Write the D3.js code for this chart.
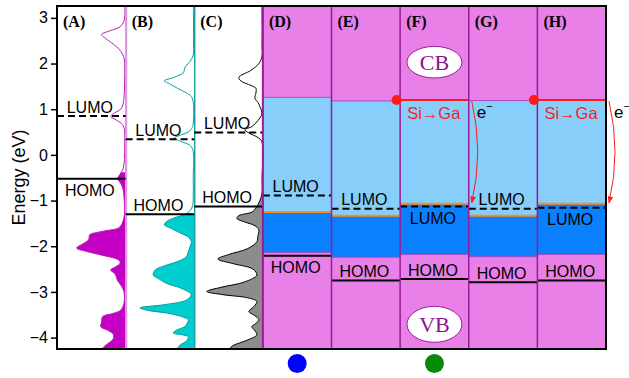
<!DOCTYPE html>
<html>
<head>
<meta charset="utf-8">
<script src="https://cdn.jsdelivr.net/npm/d3@7"></script>
<style>
  body { margin: 0; background: #fff; }
  svg { display: block; }
</style>
</head>
<body>
<svg id="chart" width="629" height="378"></svg>
<script>
// ---------- data ----------
const panels = ["A", "B", "C", "D", "E", "F", "G", "H"];
const yTicks = [-4, -3, -2, -1, 0, 1, 2, 3];

// isolated fragments (A-C): frontier levels (eV) and DOS curves [energy eV, DOS arb. units]
const dosPanels = ["A", "B", "C"];
const dosLumo = [0.85, 0.34, 0.49];
const dosHomo = [-0.52, -1.30, -1.13];
const dosOccTop = [-0.38, -1.28, -0.90];   // occupied states start here (filled area)

const dosA = [
  [3.3, 0.8], [3.05, 0.8], [2.92, 1.8], [2.80, 6], [2.70, 18], [2.64, 24], [2.55, 20],
  [2.42, 12], [2.30, 6], [2.15, 2], [2.0, 1], [1.6, 1], [1.3, 1.5], [1.10, 2.7],
  [1.00, 5], [0.92, 11], [0.84, 15], [0.76, 9], [0.66, 3], [0.55, 1.2], [0.2, 1],
  [-0.1, 1.2], [-0.30, 2.5], [-0.42, 5.5], [-0.52, 8], [-0.62, 5], [-0.75, 2.5],
  [-0.95, 1.5], [-1.20, 1], [-1.35, 1.5], [-1.50, 3.5], [-1.60, 7], [-1.66, 20],
  [-1.70, 29], [-1.75, 36], [-1.86, 37], [-1.95, 43], [-2.04, 49], [-2.12, 38],
  [-2.19, 25], [-2.30, 7], [-2.37, 5.5], [-2.45, 10], [-2.52, 15], [-2.58, 12],
  [-2.63, 10], [-2.74, 8.3], [-2.88, 4], [-2.99, 1.7], [-3.25, 1.7], [-3.40, 5],
  [-3.48, 14], [-3.54, 23], [-3.66, 24], [-3.76, 25], [-3.85, 17], [-3.94, 12],
  [-4.05, 13], [-4.15, 19], [-4.27, 25]
];
const dosB = [
  [3.3, 0.8], [2.5, 0.8], [2.19, 1], [2.05, 4], [1.93, 9], [1.80, 11], [1.70, 20],
  [1.62, 30], [1.55, 24], [1.46, 17], [1.36, 8], [1.28, 3], [1.15, 1], [0.70, 1],
  [0.60, 2], [0.50, 6], [0.44, 13], [0.37, 20], [0.30, 14], [0.22, 5], [0.12, 1.5],
  [-0.50, 1], [-0.90, 1], [-1.10, 1.5], [-1.22, 4], [-1.30, 9], [-1.38, 20],
  [-1.45, 27], [-1.53, 30], [-1.62, 22], [-1.71, 14], [-1.80, 6], [-1.90, 3],
  [-2.00, 4], [-2.12, 6], [-2.23, 8], [-2.33, 16], [-2.43, 30], [-2.52, 39],
  [-2.63, 41], [-2.72, 35], [-2.81, 28], [-2.93, 12], [-3.06, 3], [-3.18, 8],
  [-3.28, 30], [-3.35, 54], [-3.41, 45], [-3.46, 28], [-3.53, 14], [-3.61, 6],
  [-3.68, 7], [-3.76, 9.3], [-3.84, 18], [-3.90, 21], [-3.94, 12], [-3.98, 6],
  [-4.08, 8], [-4.16, 14], [-4.27, 18]
];
const dosC = [
  [3.3, 0.8], [2.4, 0.8], [2.15, 1], [2.00, 4], [1.85, 12], [1.70, 24], [1.62, 22],
  [1.52, 12], [1.46, 7], [1.35, 7], [1.24, 8], [1.15, 5], [1.06, 3], [0.90, 1],
  [0.75, 5], [0.62, 11], [0.55, 18], [0.48, 14], [0.38, 5], [0.29, 1], [-0.5, 0.8],
  [-0.85, 1], [-1.00, 3], [-1.09, 5], [-1.24, 10], [-1.33, 24], [-1.39, 26],
  [-1.47, 18], [-1.55, 8], [-1.64, 4], [-1.78, 5], [-1.90, 6], [-2.05, 15],
  [-2.18, 34], [-2.28, 45], [-2.38, 30], [-2.50, 10], [-2.63, 6], [-2.78, 18],
  [-2.90, 42], [-2.99, 56], [-3.06, 40], [-3.13, 15], [-3.21, 6], [-3.32, 9],
  [-3.43, 14], [-3.52, 8], [-3.61, 4], [-3.69, 7], [-3.76, 11], [-3.85, 8],
  [-3.94, 6], [-4.05, 15], [-4.19, 31], [-4.27, 34]
];
const dosCurves = [dosA, dosB, dosC];

// hybrid systems (D-H): band edges and frontier levels (eV)
const bandPanels = ["D", "E", "F", "G", "H"];
const cbEdge = [1.26, 1.18, 1.20, 1.19, 1.20];
const dopantLevel = [-1.25, -1.33, -1.07, -1.33, -1.07];
const gapBottom = [-2.14, -2.24, -2.18, -2.23, -2.18];
const bandLumo = [-0.89, -1.18, -1.13, -1.18, -1.16];
const bandHomo = [-2.21, -2.75, -2.72, -2.79, -2.75];

// Si -> Ga substituted systems
const dopedPanels = ["F", "H"];
const markerPanels = ["D", "F"];
const markerColors = ["#0000ff", "#078a07"];

// ---------- layout ----------
const svg = d3.select("#chart");
const plot = { left: 57, right: 606, top: 6, bottom: 349 };
const y = d3.scaleLinear().domain([-4.25, 3.26]).range([plot.bottom, plot.top]);
const x = d3.scaleBand().domain(panels).range([plot.left, plot.right]).paddingInner(0).paddingOuter(0);
const bw = x.bandwidth();

const COL = {
  pink: "#e880e8", light: "#87cefa", dark: "#0a80ff", orange: "#ff8c1a",
  divider: "#9a1a9a", red: "#ff1a1a", purpleText: "#8e128e"
};
const dosStyle = {
  A: { line: "#b81cb8", fill: "#c400c4", edge: "#dc9adc" },
  B: { line: "#009e9e", fill: "#00cdd0", edge: "#009a9a" },
  C: { line: "#000000", fill: "#8c8c8c", edge: null }
};
// label placement: "a" above the level line, "b" below it
const labelSide = {
  A: ["a", "b"], B: ["a", "a"], C: ["a", "a"], D: ["a", "b"],
  E: ["a", "a"], F: ["b", "a"], G: ["a", "a"], H: ["b", "a"]
};

const defs = svg.append("defs");
defs.append("clipPath").attr("id", "plotClip")
  .append("rect").attr("x", plot.left).attr("y", plot.top)
  .attr("width", plot.right - plot.left).attr("height", plot.bottom - plot.top);
defs.append("marker").attr("id", "arrowRed").attr("viewBox", "0 0 10 10")
  .attr("refX", 9).attr("refY", 5).attr("markerWidth", 7).attr("markerHeight", 7)
  .attr("orient", "auto").attr("markerUnits", "userSpaceOnUse")
  .append("path").attr("d", "M0,1 L10,5 L0,9 Z").attr("fill", COL.red);

const g = svg.append("g").attr("clip-path", "url(#plotClip)");

// ---------- band diagrams D-H ----------
bandPanels.forEach((p, i) => {
  const x0 = x(p), x1 = x0 + bw;
  g.append("rect").attr("x", x0).attr("y", plot.top).attr("width", bw)
    .attr("height", plot.bottom - plot.top).attr("fill", COL.pink);
  g.append("rect").attr("x", x0).attr("y", y(cbEdge[i])).attr("width", bw)
    .attr("height", y(dopantLevel[i]) - y(cbEdge[i])).attr("fill", COL.light);
  g.append("rect").attr("x", x0).attr("y", y(dopantLevel[i])).attr("width", bw)
    .attr("height", y(gapBottom[i]) - y(dopantLevel[i])).attr("fill", COL.dark);
  [cbEdge[i], gapBottom[i]].forEach(v => {
    g.append("line").attr("x1", x0).attr("x2", x1).attr("y1", y(v)).attr("y2", y(v))
      .attr("stroke", "#a84cc4").attr("stroke-width", 1);
  });
  g.append("line").attr("x1", x0).attr("x2", x1)
    .attr("y1", y(dopantLevel[i])).attr("y2", y(dopantLevel[i]))
    .attr("stroke", COL.orange).attr("stroke-width", 2);
});

// red conduction-band edge for Si->Ga systems
dopedPanels.forEach(p => {
  const i = bandPanels.indexOf(p);
  g.append("line").attr("x1", x(p)).attr("x2", x(p) + bw)
    .attr("y1", y(cbEdge[i])).attr("y2", y(cbEdge[i]))
    .attr("stroke", COL.red).attr("stroke-width", 2);
});

// ---------- DOS panels A-C ----------
const curve = d3.curveCatmullRom.alpha(0.5);
dosPanels.forEach((p, i) => {
  const x0 = x(p), x1 = x0 + bw;
  const st = dosStyle[p];
  const dx = d3.scaleLinear().domain([0, bw]).range([x1, x0]);
  const data = dosCurves[i];
  const clipId = "occ" + p;
  defs.append("clipPath").attr("id", clipId).append("rect")
    .attr("x", x0).attr("y", y(dosOccTop[i])).attr("width", bw)
    .attr("height", plot.bottom - y(dosOccTop[i]));
  const area = d3.area().curve(curve)
    .x0(x1).x1(d => dx(d[1])).y(d => y(d[0]));
  g.append("path").datum(data).attr("d", area).attr("fill", st.fill)
    .attr("clip-path", `url(#${clipId})`);
  const line = d3.line().curve(curve).x(d => dx(d[1])).y(d => y(d[0]));
  g.append("path").datum(data).attr("d", line).attr("fill", "none")
    .attr("stroke", st.line).attr("stroke-width", 1);
  if (st.edge) {
    g.append("line").attr("x1", x1 + 0.5).attr("x2", x1 + 0.5)
      .attr("y1", plot.top).attr("y2", plot.bottom)
      .attr("stroke", st.edge).attr("stroke-width", p === "A" ? 2.2 : 1.3);
  }
});

// ---------- frontier levels ----------
const lumoAll = panels.map(p => dosPanels.includes(p) ? dosLumo[dosPanels.indexOf(p)] : bandLumo[bandPanels.indexOf(p)]);
const homoAll = panels.map(p => dosPanels.includes(p) ? dosHomo[dosPanels.indexOf(p)] : bandHomo[bandPanels.indexOf(p)]);

panels.forEach((p, i) => {
  const x0 = x(p), x1 = x0 + bw, cx = x0 + bw / 2 - 1.5;
  g.append("line").attr("x1", x0).attr("x2", x1)
    .attr("y1", y(lumoAll[i])).attr("y2", y(lumoAll[i]))
    .attr("stroke", "#000").attr("stroke-width", 2).attr("stroke-dasharray", "7,4");
  g.append("line").attr("x1", x0).attr("x2", x1)
    .attr("y1", y(homoAll[i])).attr("y2", y(homoAll[i]))
    .attr("stroke", "#000").attr("stroke-width", 2);
  const [ls, hs] = labelSide[p];
  g.append("text").attr("x", cx).attr("y", y(lumoAll[i]) + (ls === "a" ? -3.5 : 17.5))
    .attr("text-anchor", "middle").attr("font-family", "Liberation Sans, Arial, sans-serif")
    .attr("font-size", 16).attr("fill", "#000").text("LUMO");
  g.append("text").attr("x", cx).attr("y", y(homoAll[i]) + (hs === "a" ? -3.5 : 17.5))
    .attr("text-anchor", "middle").attr("font-family", "Liberation Sans, Arial, sans-serif")
    .attr("font-size", 16).attr("fill", "#000").text("HOMO");
});

// panel dividers D-H
bandPanels.forEach(p => {
  g.append("line").attr("x1", x(p)).attr("x2", x(p)).attr("y1", plot.top).attr("y2", plot.bottom)
    .attr("stroke", COL.divider).attr("stroke-width", p === "D" ? 2 : 1.5);
});

// panel letters
panels.forEach(p => {
  svg.append("text").attr("x", x(p) + 6).attr("y", 26.5)
    .attr("font-family", "Liberation Serif, Times New Roman, serif")
    .attr("font-weight", "bold").attr("font-size", 16).attr("fill", "#000")
    .text(`(${p})`);
});

// CB / VB tags
const tagPanel = "F";
const tags = [{ t: "CB", e: 2.03, ry: 15.8 }, { t: "VB", e: -3.71, ry: 18 }];
tags.forEach(d => {
  const cx = x(tagPanel) + bw / 2;
  svg.append("ellipse").attr("cx", cx).attr("cy", y(d.e)).attr("rx", 27.5).attr("ry", d.ry)
    .attr("fill", "#fff").attr("stroke", COL.divider).attr("stroke-width", 1);
  svg.append("text").attr("x", cx).attr("y", y(d.e) + 7.5).attr("text-anchor", "middle")
    .attr("font-family", "Liberation Serif, Times New Roman, serif").attr("font-size", 22)
    .attr("fill", COL.purpleText).text(d.t);
});

// Si -> Ga annotations and electron transfer arrows
dopedPanels.forEach(p => {
  const i = bandPanels.indexOf(p);
  const x0 = x(p), x1 = x0 + bw;
  svg.append("circle").attr("cx", x0 - 3.5).attr("cy", y(cbEdge[i])).attr("r", 5).attr("fill", COL.red);
  svg.append("text").attr("x", x0 + 7).attr("y", y(cbEdge[i]) + 19)
    .attr("font-family", "Liberation Sans, Arial, sans-serif").attr("font-size", 16.5)
    .attr("fill", COL.red).text("Si\u2192Ga");
  const ya = y(cbEdge[i]) + 1, yb = y(dopantLevel[i]) - 1, xa = x1 + 3;
  svg.append("path")
    .attr("d", `M${xa},${ya} Q${xa + 12},${(ya + yb) / 2} ${xa},${yb}`)
    .attr("fill", "none").attr("stroke", COL.red).attr("stroke-width", 1)
    .attr("marker-end", "url(#arrowRed)");
  const t = svg.append("text").attr("x", x1 + 8).attr("y", y(cbEdge[i]) + 18)
    .attr("font-family", "Liberation Sans, Arial, sans-serif").attr("font-size", 17).attr("fill", "#000");
  t.append("tspan").text("e");
  t.append("tspan").attr("dy", -8).attr("font-size", 11).text("\u2212");
});

// site markers under panels
markerPanels.forEach((p, i) => {
  svg.append("circle").attr("cx", x(p) + bw / 2).attr("cy", 363.5).attr("r", 9.5)
    .attr("fill", markerColors[i]);
});

// frame and axis
svg.append("rect").attr("x", plot.left).attr("y", plot.top)
  .attr("width", plot.right - plot.left).attr("height", plot.bottom - plot.top)
  .attr("fill", "none").attr("stroke", "#000").attr("stroke-width", 2);

const axis = svg.append("g").attr("transform", `translate(${plot.left},0)`)
  .call(d3.axisLeft(y).tickValues(yTicks).tickSize(6).tickPadding(3));
axis.select(".domain").remove();
axis.selectAll(".tick line").attr("stroke", "#000").attr("stroke-width", 1.5);
axis.selectAll(".tick text").attr("font-family", "Liberation Sans, Arial, sans-serif")
  .attr("font-size", 16).attr("fill", "#000");

svg.append("text").attr("transform", "translate(25,177.5) rotate(-90)")
  .attr("text-anchor", "middle").attr("font-family", "Liberation Sans, Arial, sans-serif")
  .attr("font-size", 18).attr("fill", "#000").text("Energy (eV)");
</script>
</body>
</html>
